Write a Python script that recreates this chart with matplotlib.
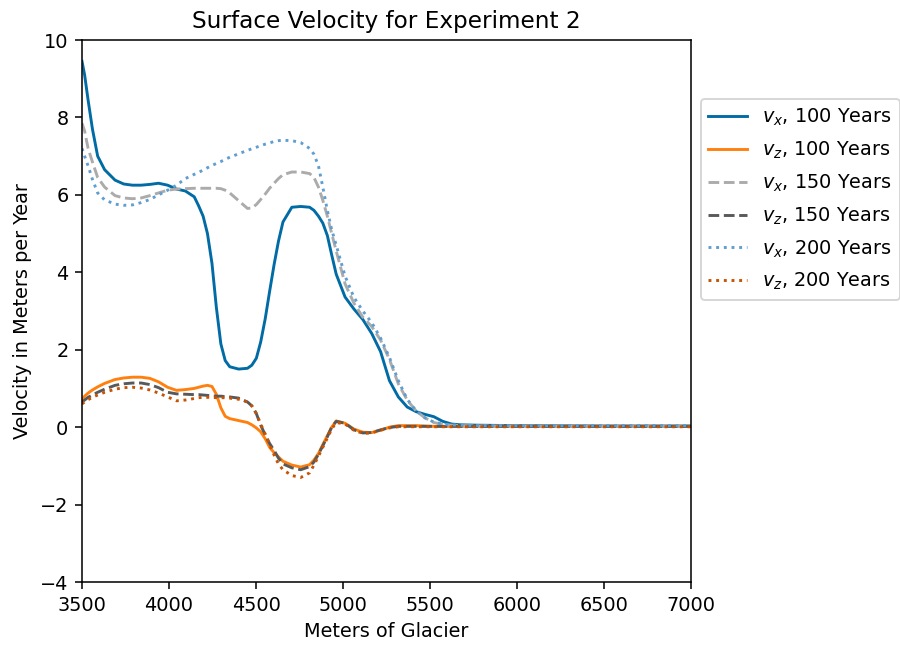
import matplotlib
matplotlib.use("Agg")
import matplotlib.pyplot as plt

x = [3500, 3515, 3535, 3560, 3590, 3630, 3690, 3740, 3790, 3840, 3890, 3940,
     3992, 4043, 4094, 4145, 4170, 4196, 4221, 4247, 4272, 4298, 4323, 4349,
     4400, 4451, 4476, 4502, 4527, 4553, 4578, 4604, 4629, 4655, 4706, 4757,
     4808, 4833, 4859, 4884, 4910, 4935, 4961, 5012, 5063, 5114, 5165, 5216,
     5267, 5318, 5369, 5420, 5471, 5522, 5573, 5624, 5675, 5777, 5981, 6491,
     7000]

vx_100 = [9.45, 9.1, 8.45, 7.7, 7.0, 6.65, 6.38, 6.28, 6.25, 6.25, 6.27, 6.3,
          6.25, 6.15, 6.1, 5.95, 5.72, 5.45, 5.0, 4.23, 3.1, 2.15, 1.72, 1.56,
          1.5, 1.52, 1.6, 1.78, 2.2, 2.8, 3.5, 4.2, 4.8, 5.3, 5.68, 5.7,
          5.68, 5.6, 5.45, 5.27, 4.95, 4.45, 3.95, 3.36, 3.05, 2.78, 2.42, 1.95,
          1.2, 0.78, 0.52, 0.4, 0.33, 0.27, 0.15, 0.08, 0.06, 0.05, 0.04, 0.03,
          0.03]

vz_100 = [0.72, 0.8, 0.88, 0.96, 1.04, 1.13, 1.23, 1.27, 1.29, 1.29, 1.26, 1.17,
          1.03, 0.95, 0.97, 1.0, 1.03, 1.06, 1.08, 1.05, 0.85, 0.5, 0.28, 0.22,
          0.17, 0.12, 0.06, -0.02, -0.12, -0.3, -0.52, -0.66, -0.77, -0.88, -0.98, -1.03,
          -0.97, -0.85, -0.68, -0.45, -0.22, 0.0, 0.16, 0.1, -0.05, -0.13, -0.14, -0.08,
          0.0, 0.04, 0.04, 0.04, 0.03, 0.02, 0.02, 0.02, 0.02, 0.02, 0.02, 0.02,
          0.02]

vx_150 = [7.85, 7.65, 7.2, 6.85, 6.45, 6.2, 5.98, 5.92, 5.9, 5.92, 5.98, 6.05,
          6.12, 6.15, 6.16, 6.17, 6.17, 6.17, 6.17, 6.17, 6.17, 6.16, 6.12, 6.05,
          5.85, 5.65, 5.66, 5.75, 5.88, 6.02, 6.17, 6.3, 6.42, 6.52, 6.59, 6.59,
          6.55, 6.45, 6.2, 5.86, 5.45, 5.0, 4.55, 3.7, 3.2, 2.84, 2.6, 2.25,
          1.75, 1.12, 0.7, 0.42, 0.24, 0.12, 0.07, 0.05, 0.04, 0.03, 0.03, 0.02,
          0.02]

vz_150 = [0.65, 0.7, 0.77, 0.83, 0.9, 0.98, 1.08, 1.12, 1.14, 1.14, 1.1, 1.02,
          0.9, 0.86, 0.85, 0.84, 0.84, 0.83, 0.82, 0.81, 0.8, 0.8, 0.79, 0.78,
          0.75, 0.65, 0.55, 0.35, 0.05, -0.2, -0.42, -0.6, -0.8, -0.95, -1.05, -1.1,
          -1.02, -0.9, -0.7, -0.48, -0.25, 0.0, 0.15, 0.1, -0.07, -0.15, -0.14, -0.07,
          -0.01, 0.02, 0.02, 0.02, 0.02, 0.02, 0.02, 0.02, 0.02, 0.02, 0.02, 0.02,
          0.02]

vx_200 = [7.2, 7.0, 6.75, 6.4, 6.05, 5.87, 5.76, 5.73, 5.74, 5.8, 5.88, 6.0,
          6.12, 6.25, 6.42, 6.53, 6.58, 6.64, 6.7, 6.76, 6.81, 6.86, 6.92, 6.97,
          7.06, 7.15, 7.19, 7.23, 7.27, 7.31, 7.34, 7.38, 7.4, 7.41, 7.4, 7.35,
          7.2, 7.05, 6.75, 6.2, 5.6, 5.1, 4.7, 3.9, 3.35, 3.0, 2.7, 2.3,
          1.8, 1.2, 0.72, 0.42, 0.24, 0.13, 0.08, 0.06, 0.05, 0.04, 0.04, 0.04,
          0.04]

vz_200 = [0.6, 0.65, 0.71, 0.77, 0.83, 0.9, 0.98, 1.02, 1.03, 1.01, 0.96, 0.88,
          0.78, 0.68, 0.7, 0.74, 0.76, 0.77, 0.77, 0.77, 0.76, 0.76, 0.76, 0.75,
          0.72, 0.65, 0.55, 0.35, 0.08, -0.18, -0.45, -0.72, -0.95, -1.1, -1.25, -1.3,
          -1.18, -0.98, -0.75, -0.52, -0.28, -0.05, 0.12, 0.08, -0.08, -0.16, -0.15, -0.08,
          -0.02, 0.01, 0.01, 0.01, 0.01, 0.01, 0.01, 0.01, 0.01, 0.01, 0.01, 0.01,
          0.01]

labels = [r"$v_x$, 100 Years", r"$v_z$, 100 Years",
          r"$v_x$, 150 Years", r"$v_z$, 150 Years",
          r"$v_x$, 200 Years", r"$v_z$, 200 Years"]
colors = ["#006BA4", "#FF800E", "#ABABAB", "#595959", "#5F9ED1", "#C85200"]
styles = ["-", "-", "--", "--", ":", ":"]
series = [vx_100, vz_100, vx_150, vz_150, vx_200, vz_200]

DPI = 139
fig = plt.figure(figsize=(900 / DPI, 646 / DPI), dpi=DPI)
ax = fig.add_axes([82 / 900, 1 - 582 / 646, (691 - 82) / 900, (582 - 40) / 646])
for s, lab, c, ls in zip(series, labels, colors, styles):
    ax.plot(x, s, color=c, linestyle=ls, linewidth=1.5, label=lab)

ax.set_xlim(3500, 7000)
ax.set_ylim(-4, 10)
ax.set_title("Surface Velocity for Experiment 2")
ax.set_xlabel("Meters of Glacier")
ax.set_ylabel("Velocity in Meters per Year")
ax.legend(loc="upper left", bbox_to_anchor=(1.0, 0.909), labelspacing=0.6)

fig.savefig("out.png", dpi=DPI)
